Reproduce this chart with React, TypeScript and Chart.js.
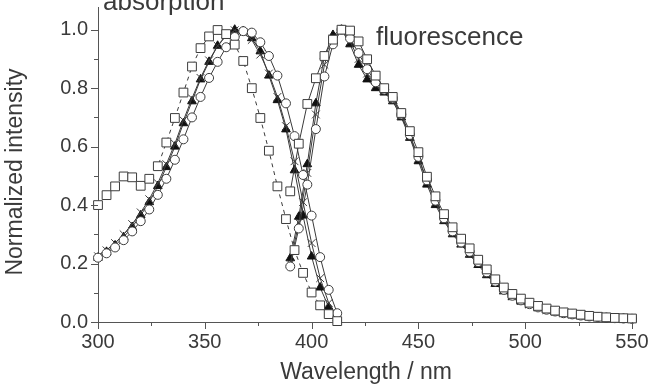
import React, { useEffect, useRef } from 'react';
import { Chart, registerables } from 'chart.js';

Chart.register(...registerables);

// Absorption spectra (normalized), sampled every 4 nm
const absWavelength = [300, 304, 308, 312, 316, 320, 324, 328, 332, 336, 340, 344, 348, 352, 356, 360, 364, 368, 372, 376, 380, 384, 388, 392, 396, 400, 404, 408, 412];
const absSquares = [0.40, 0.434, 0.464, 0.498, 0.495, 0.466, 0.49, 0.533, 0.614, 0.698, 0.785, 0.874, 0.937, 0.977, 0.999, 0.985, 0.949, 0.893, 0.80, 0.698, 0.586, 0.464, 0.352, 0.246, 0.168, 0.101, 0.057, 0.027, 0.003];
const absCircles = [0.22, 0.235, 0.255, 0.28, 0.31, 0.345, 0.385, 0.435, 0.49, 0.555, 0.625, 0.70, 0.77, 0.835, 0.89, 0.94, 0.975, 0.995, 0.99, 0.957, 0.91, 0.843, 0.748, 0.636, 0.503, 0.364, 0.222, 0.11, 0.03];
const absTriangles = [0.22, 0.24, 0.262, 0.29, 0.325, 0.365, 0.41, 0.465, 0.53, 0.60, 0.68, 0.755, 0.83, 0.89, 0.945, 0.98, 1.0, 0.995, 0.971, 0.926, 0.843, 0.759, 0.659, 0.519, 0.364, 0.224, 0.118, 0.051, 0.012];
const absCrosses = [0.225, 0.245, 0.27, 0.30, 0.335, 0.375, 0.42, 0.475, 0.54, 0.61, 0.69, 0.765, 0.835, 0.895, 0.945, 0.98, 0.998, 0.99, 0.965, 0.915, 0.85, 0.77, 0.67, 0.55, 0.41, 0.27, 0.15, 0.065, 0.015];

// Fluorescence spectra (normalized), sampled every 4 nm
const flWavelength = [390, 394, 398, 402, 406, 410, 414, 418, 422, 426, 430, 434, 438, 442, 446, 450, 454, 458, 462, 466, 470, 474, 478, 482, 486, 490, 494, 498, 502, 506, 510, 514, 518, 522, 526, 530, 534, 538, 542, 546, 550];
const flSquares = [0.447, 0.61, 0.746, 0.834, 0.91, 0.966, 1.0, 0.997, 0.96, 0.899, 0.843, 0.80, 0.77, 0.715, 0.653, 0.581, 0.497, 0.43, 0.369, 0.324, 0.285, 0.252, 0.213, 0.18, 0.146, 0.118, 0.096, 0.08, 0.066, 0.055, 0.046, 0.039, 0.033, 0.029, 0.025, 0.021, 0.018, 0.016, 0.014, 0.013, 0.012];
const flTriangles = [0.218, 0.36, 0.54, 0.748, 0.91, 0.982, 1.0, 0.95, 0.88, 0.83, 0.80, 0.785, 0.755, 0.70, 0.63, 0.55, 0.47, 0.40, 0.345, 0.30, 0.265, 0.23, 0.195, 0.16, 0.13, 0.105, 0.085, 0.07, 0.058, 0.048, 0.04, 0.034, 0.029, 0.025, 0.021, 0.018, 0.016, 0.014, 0.012, 0.011, 0.01];
const flCircles = [0.19, 0.32, 0.47, 0.66, 0.84, 0.95, 1.0, 0.97, 0.92, 0.865, 0.82, 0.795, 0.765, 0.71, 0.64, 0.565, 0.485, 0.415, 0.355, 0.31, 0.272, 0.24, 0.205, 0.17, 0.138, 0.11, 0.09, 0.074, 0.061, 0.05, 0.042, 0.036, 0.03, 0.026, 0.022, 0.019, 0.017, 0.015, 0.013, 0.012, 0.011];
const flCrosses = [0.20, 0.34, 0.51, 0.71, 0.88, 0.97, 1.0, 0.96, 0.90, 0.85, 0.81, 0.79, 0.76, 0.705, 0.635, 0.56, 0.48, 0.41, 0.35, 0.305, 0.268, 0.235, 0.20, 0.165, 0.134, 0.108, 0.088, 0.072, 0.06, 0.049, 0.041, 0.035, 0.03, 0.025, 0.021, 0.019, 0.016, 0.014, 0.013, 0.011, 0.01];

// Axis ticks
const xMajorTicks = [300, 350, 400, 450, 500, 550];
const yMajorTicks = [0, 0.2, 0.4, 0.6, 0.8, 1.0];

const FONT = '"Liberation Sans", Arial, Helvetica, sans-serif';
const TEXT = '#3a3a3a';
const AXIS = '#555555';
const LINE = '#3a3a3a';

const pairs = (xs: number[], ys: number[]) => xs.map((x, i) => ({ x, y: ys[i] }));

type Marker = 'rect' | 'circle' | 'triangle' | 'crossRot';

const series = (data: { x: number; y: number }[], marker: Marker, dashed = false) => {
  const base: any = {
    data,
    showLine: true,
    borderColor: LINE,
    borderWidth: 1,
    tension: 0,
    pointStyle: marker,
    pointBorderWidth: 1,
    pointBorderColor: '#3c3c3c',
    pointBackgroundColor: '#ffffff',
    pointRadius: 4.5,
    pointHoverRadius: 4.5,
    clip: false,
  };
  if (dashed) base.borderDash = [4, 4];
  if (marker === 'rect') base.pointRadius = 6.2;
  if (marker === 'triangle') {
    base.pointRadius = 5;
    base.pointBackgroundColor = '#111111';
    base.pointBorderColor = '#111111';
  }
  if (marker === 'crossRot') base.pointRadius = 5.5;
  return base;
};

const minorBetween = (ticks: number[]) =>
  ticks.slice(0, -1).map((t, i) => (t + ticks[i + 1]) / 2);

const decorPlugin = {
  id: 'decor',
  afterDraw(chart: any) {
    const { ctx, chartArea, scales } = chart;
    const xs = scales.x;
    const ys = scales.y;
    ctx.save();
    ctx.strokeStyle = AXIS;
    ctx.lineWidth = 1;
    ctx.beginPath();
    // x ticks (outward)
    xMajorTicks.forEach((v) => {
      const px = Math.round(xs.getPixelForValue(v)) + 0.5;
      ctx.moveTo(px, chartArea.bottom);
      ctx.lineTo(px, chartArea.bottom + 7);
    });
    minorBetween(xMajorTicks).forEach((v) => {
      const px = Math.round(xs.getPixelForValue(v)) + 0.5;
      ctx.moveTo(px, chartArea.bottom);
      ctx.lineTo(px, chartArea.bottom + 4);
    });
    // y ticks (outward)
    yMajorTicks.forEach((v) => {
      const py = Math.round(ys.getPixelForValue(v)) + 0.5;
      ctx.moveTo(chartArea.left, py);
      ctx.lineTo(chartArea.left - 7, py);
    });
    minorBetween(yMajorTicks).forEach((v) => {
      const py = Math.round(ys.getPixelForValue(v)) + 0.5;
      ctx.moveTo(chartArea.left, py);
      ctx.lineTo(chartArea.left - 4, py);
    });
    ctx.stroke();

    // Axis titles
    ctx.fillStyle = TEXT;
    ctx.font = `23px ${FONT}`;
    ctx.textAlign = 'center';
    ctx.textBaseline = 'middle';
    ctx.fillText('Wavelength / nm', 366, 373);
    ctx.save();
    ctx.translate(16, 172);
    ctx.rotate(-Math.PI / 2);
    ctx.fillText('Normalized intensity', 0, 0);
    ctx.restore();

    // Band labels
    ctx.font = `26px ${FONT}`;
    ctx.textAlign = 'left';
    ctx.textBaseline = 'alphabetic';
    ctx.fillText('absorption', 103, 10);
    ctx.fillText('fluorescence', 376, 45);
    ctx.restore();
  },
};

export default function App() {
  const canvasRef = useRef<HTMLCanvasElement | null>(null);

  useEffect(() => {
    const canvas = canvasRef.current;
    if (!canvas) return;
    const chart = new Chart(canvas, {
      type: 'line',
      data: {
        datasets: [
          series(pairs(flWavelength, flSquares), 'rect'),
          series(pairs(absWavelength, absSquares), 'rect', true),
          series(pairs(flWavelength, flCircles), 'circle'),
          series(pairs(absWavelength, absCircles), 'circle'),
          series(pairs(flWavelength, flCrosses), 'crossRot'),
          series(pairs(absWavelength, absCrosses), 'crossRot'),
          series(pairs(flWavelength, flTriangles), 'triangle'),
          series(pairs(absWavelength, absTriangles), 'triangle'),
        ],
      },
      plugins: [decorPlugin],
      options: {
        responsive: false,
        animation: false,
        events: [],
        layout: { padding: { left: 0, right: 34, top: 0, bottom: 0 } },
        plugins: {
          legend: { display: false },
          tooltip: { enabled: false },
        },
        scales: {
          x: {
            type: 'linear',
            min: 300,
            max: 550,
            afterBuildTicks: (s: any) => {
              s.ticks = xMajorTicks.map((value) => ({ value }));
            },
            afterFit: (s: any) => {
              s.height = 66;
              s.paddingLeft = 0;
              s.paddingRight = 0;
            },
            grid: { display: false, drawTicks: false },
            border: { display: true, color: AXIS, width: 1 },
            ticks: {
              padding: 8,
              color: TEXT,
              font: { family: FONT, size: 20 },
              maxRotation: 0,
              callback: (v: any) => String(v),
            },
          },
          y: {
            type: 'linear',
            min: 0,
            max: 1.077,
            afterBuildTicks: (s: any) => {
              s.ticks = yMajorTicks.map((value) => ({ value }));
            },
            afterFit: (s: any) => {
              s.width = 98;
              s.paddingTop = 0;
              s.paddingBottom = 0;
            },
            grid: { display: false, drawTicks: false },
            border: { display: true, color: AXIS, width: 1 },
            ticks: {
              padding: 10,
              color: TEXT,
              font: { family: FONT, size: 20 },
              callback: (v: any) => Number(v).toFixed(1),
            },
          },
        },
      },
    });
    return () => chart.destroy();
  }, []);

  return (
    <div style={{ position: 'fixed', left: 0, top: 0, width: 666, height: 388, background: '#ffffff' }}>
      <canvas ref={canvasRef} width={666} height={388} style={{ display: 'block' }} />
    </div>
  );
}
